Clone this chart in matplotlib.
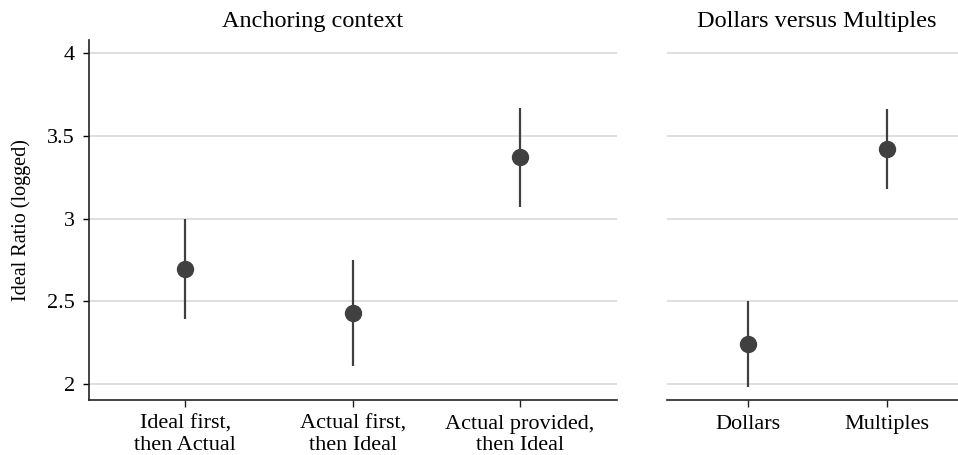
import matplotlib
matplotlib.use("Agg")
import matplotlib.pyplot as plt

plt.rcParams['font.family'] = ['Liberation Serif', 'DejaVu Serif']

left_cats = ["Ideal first,\nthen Actual", "Actual first,\nthen Ideal", "Actual provided,\nthen Ideal"]
left_est = [2.695, 2.43, 3.37]
left_lo = [2.39, 2.11, 3.07]
left_hi = [3.00, 2.75, 3.67]

right_cats = ["Dollars", "Multiples"]
right_est = [2.24, 3.42]
right_lo = [1.98, 3.18]
right_hi = [2.50, 3.66]

yticks = [2, 2.5, 3, 3.5, 4]
yticklabels = ["2", "2.5", "3", "3.5", "4"]

W, H = 958, 455
fig = plt.figure(figsize=(W/100, H/100), dpi=100)
ax1 = fig.add_axes([89/W, 1-400/H, (617-89)/W, (400-40)/H])
ax2 = fig.add_axes([667/W, 1-400/H, (958-667)/W, (400-40)/H])

mc = '#404040'
grid_c = '#d9d9d9'

def draw(ax, cats, est, lo, hi, xlim):
    xs = list(range(1, len(cats)+1))
    for x, l, h in zip(xs, lo, hi):
        ax.plot([x, x], [l, h], color=mc, lw=1.6, solid_capstyle='butt', zorder=3)
    ax.plot(xs, est, 'o', color=mc, ms=11.5, zorder=4)
    ax.set_xlim(*xlim)
    ax.set_ylim(1.903, 4.08)
    ax.set_yticks(yticks)
    for y in yticks:
        ax.axhline(y, color=grid_c, lw=1.2, zorder=1)
    ax.set_xticks(xs)
    ax.set_xticklabels(cats, fontsize=16, linespacing=1.2)
    ax.tick_params(axis='x', length=5, width=1, pad=5.5, colors='#222222', labelcolor='black')
    for s in ['top', 'right']:
        ax.spines[s].set_visible(False)
    ax.spines['bottom'].set_linewidth(1.2)
    ax.spines['bottom'].set_color('#222222')

draw(ax1, left_cats, left_est, left_lo, left_hi, (0.425, 3.58))
draw(ax2, right_cats, right_est, right_lo, right_hi, (0.417, 2.51))

ax1.set_yticklabels(yticklabels, fontsize=16)
ax1.tick_params(axis='y', length=4, width=1, pad=6)
ax1.spines['left'].set_linewidth(1.2)
ax1.spines['left'].set_color('#222222')
ax1.set_ylabel("Ideal Ratio (logged)", fontsize=14.5, labelpad=12)

ax2.spines['left'].set_visible(False)
ax2.tick_params(axis='y', left=False, labelleft=False)

fig.text(313/W, 1-22/H, "Anchoring context", ha='center', va='center', fontsize=17.5)
fig.text(817/W, 1-22/H, "Dollars versus Multiples", ha='center', va='center', fontsize=17.5)

fig.savefig("out.png", dpi=100, facecolor='white')
